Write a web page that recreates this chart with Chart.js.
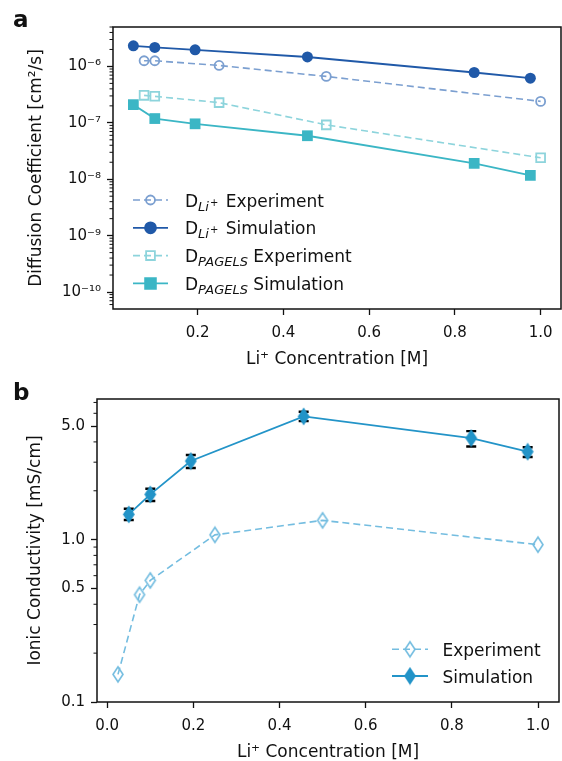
<!DOCTYPE html>
<html>
<head>
<meta charset="utf-8">
<script src="https://cdn.jsdelivr.net/npm/chart.js@4.4.1/dist/chart.umd.min.js"></script>
<style>
  html, body { margin: 0; padding: 0; background: #fff; }
  #page { position: relative; width: 562px; height: 761px; overflow: hidden; font-family: "DejaVu Sans", sans-serif; }
  .holder { position: absolute; left: 0; width: 640px; }
  .tag { position: absolute; font-weight: bold; font-size: 23px; line-height: 1; color: #111; }
</style>
</head>
<body>
<div id="page">
  <div class="holder" style="top:0; height:370px"><canvas id="chartA" width="562" height="370"></canvas></div>
  <div class="holder" style="top:370px; height:391px"><canvas id="chartB" width="562" height="391"></canvas></div>
  <div class="tag" style="left:13px; top:8px">a</div>
  <div class="tag" style="left:13px; top:381px">b</div>
</div>
<script>
// panel a - diffusion coefficients
const concSimA = [0.05, 0.10, 0.194, 0.456, 0.845, 0.976];
const concExpA = [0.075, 0.10, 0.25, 0.50, 1.00];
const dLiExp = [1.26e-6, 1.26e-6, 1.04e-6, 6.65e-7, 2.4e-7];
const dLiSim = [2.32e-6, 2.17e-6, 1.97e-6, 1.47e-6, 7.8e-7, 6.2e-7];
const dPagelsExp = [3.07e-7, 2.95e-7, 2.28e-7, 9.2e-8, 2.4e-8];
const dPagelsSim = [2.1e-7, 1.19e-7, 9.6e-8, 5.9e-8, 1.91e-8, 1.17e-8];
const xTicksA = [0.2, 0.4, 0.6, 0.8, 1.0];
const yTicksA = [1e-10, 1e-9, 1e-8, 1e-7, 1e-6];
const yTickLabelsA = ['10⁻¹⁰', '10⁻⁹', '10⁻⁸', '10⁻⁷', '10⁻⁶'];

// panel b - ionic conductivity
const concExpB = [0.025, 0.075, 0.10, 0.25, 0.50, 1.00];
const concSimB = [0.05, 0.10, 0.194, 0.456, 0.845, 0.976];
const condExp = [0.148, 0.458, 0.561, 1.07, 1.315, 0.931];
const condSim = [1.43, 1.90, 3.05, 5.74, 4.22, 3.48];
const condSimLow = [1.32, 1.73, 2.76, 5.37, 3.75, 3.23];
const condSimHigh = [1.55, 2.06, 3.32, 6.13, 4.66, 3.71];
const xTicksB = [0.0, 0.2, 0.4, 0.6, 0.8, 1.0];
const yTicksB = [0.1, 0.5, 1.0, 5.0];
const yTickLabelsB = ['0.1', '0.5', '1.0', '5.0'];
const yMinorB = [0.2, 0.3, 0.4, 0.6, 0.7, 0.8, 0.9, 2, 3, 4, 6, 7];

const fontFamily = '"DejaVu Sans", sans-serif';
const ink = '#111';

function pts(xs, ys) {
  return xs.map((x, i) => ({ x: x, y: ys[i] }));
}

// minor ticks for the log axis of panel a
const yMinorA = [];
for (let e = -11; e <= -6; e++) {
  for (let k = 2; k <= 9; k++) {
    const v = k * Math.pow(10, e);
    if (v >= 5e-11 && v <= 5e-6) yMinorA.push(v);
  }
}

// thin diamond marker (matplotlib 'd')
function thinDiamond(color, filled) {
  const w = 10, h = 15, lw = 1.6;
  const c = document.createElement('canvas');
  c.width = w + 4; c.height = h + 4;
  const g = c.getContext('2d');
  const cx = c.width / 2, cy = c.height / 2;
  g.beginPath();
  g.moveTo(cx, cy - h / 2);
  g.lineTo(cx + w / 2, cy);
  g.lineTo(cx, cy + h / 2);
  g.lineTo(cx - w / 2, cy);
  g.closePath();
  if (filled) { g.fillStyle = color; g.fill(); }
  g.strokeStyle = color; g.lineWidth = lw; g.stroke();
  return c;
}

function drawMarker(ctx, ds, x, y) {
  const st = ds.pointStyle;
  if (typeof st === 'object') {
    ctx.drawImage(st, x - st.width / 2, y - st.height / 2);
    return;
  }
  const r = ds.pointRadius;
  ctx.beginPath();
  if (st === 'rect') {
    const s = Math.SQRT1_2 * r;
    ctx.rect(x - s, y - s, 2 * s, 2 * s);
  } else {
    ctx.arc(x, y, r, 0, Math.PI * 2);
  }
  ctx.fillStyle = ds.pointBackgroundColor;
  ctx.fill();
  ctx.strokeStyle = ds.pointBorderColor;
  ctx.lineWidth = ds.pointBorderWidth;
  ctx.stroke();
}

const framePlugin = {
  id: 'frame',
  afterDraw(chart) {
    const a = chart.chartArea, ctx = chart.ctx;
    ctx.save();
    ctx.strokeStyle = ink;
    ctx.lineWidth = 1.5;
    ctx.strokeRect(a.left, a.top, a.right - a.left, a.bottom - a.top);
    // minor ticks on the y axis
    const opts = chart.options.plugins.minorTicks;
    const ys = chart.scales.y;
    ctx.lineWidth = 1;
    opts.values.forEach(v => {
      const py = ys.getPixelForValue(v);
      if (py < a.top - 0.5 || py > a.bottom + 0.5) return;
      ctx.beginPath();
      ctx.moveTo(a.left - 3.5, py);
      ctx.lineTo(a.left, py);
      ctx.stroke();
    });
    ctx.restore();
  }
};

const errorBarPlugin = {
  id: 'errorBars',
  beforeDatasetsDraw(chart, args, opts) {
    if (!opts || !opts.low) return;
    const ctx = chart.ctx;
    const xs = chart.scales.x, ys = chart.scales.y;
    ctx.save();
    ctx.strokeStyle = '#000';
    opts.xs.forEach((xv, i) => {
      const px = xs.getPixelForValue(xv);
      const lo = ys.getPixelForValue(opts.low[i]);
      const hi = ys.getPixelForValue(opts.high[i]);
      ctx.lineWidth = 1.6;
      ctx.beginPath(); ctx.moveTo(px, lo); ctx.lineTo(px, hi); ctx.stroke();
      ctx.lineWidth = 2.4;
      ctx.beginPath();
      ctx.moveTo(px - 5, lo); ctx.lineTo(px + 5, lo);
      ctx.moveTo(px - 5, hi); ctx.lineTo(px + 5, hi);
      ctx.stroke();
    });
    ctx.restore();
  }
};

const legendPlugin = {
  id: 'richLegend',
  afterDraw(chart, args, opts) {
    if (!opts || !opts.items) return;
    const ctx = chart.ctx;
    opts.items.forEach((item, k) => {
      const ds = chart.data.datasets[item.dataset];
      const y = opts.y + k * opts.spacing;
      ctx.save();
      ctx.strokeStyle = ds.borderColor;
      ctx.lineWidth = ds.borderWidth;
      ctx.setLineDash(ds.borderDash || []);
      ctx.beginPath();
      ctx.moveTo(opts.x, y);
      ctx.lineTo(opts.x + opts.handle, y);
      ctx.stroke();
      ctx.setLineDash([]);
      drawMarker(ctx, ds, opts.x + opts.handle / 2, y);
      let tx = opts.textX;
      ctx.fillStyle = ink;
      ctx.textBaseline = 'alphabetic';
      item.parts.forEach(p => {
        const size = p.size || 17;
        ctx.font = (p.italic ? 'italic ' : '') + size + 'px ' + fontFamily;
        tx += p.dx || 0;
        ctx.fillText(p.text, tx, y + 6.5 + (p.dy || 0));
        tx += ctx.measureText(p.text).width;
      });
      ctx.restore();
    });
  }
};

function axisX(min, max, tickList, height) {
  return {
    type: 'linear', min: min, max: max,
    afterBuildTicks: s => { s.ticks = tickList.map(v => ({ value: v })); },
    afterFit: s => { s.height = height; s.paddingLeft = 0; s.paddingRight = 0; },
    ticks: {
      font: { size: 15, family: fontFamily }, color: ink, padding: 9,
      maxRotation: 0, autoSkip: false,
      callback: v => Number(v).toFixed(1)
    },
    grid: { drawOnChartArea: false, drawTicks: true, tickLength: 6, tickColor: ink, tickWidth: 1.3 },
    border: { display: false },
    title: {
      display: true, text: 'Li⁺ Concentration [M]', color: ink, padding: 0,
      font: { size: 17, family: fontFamily, lineHeight: 1 }
    }
  };
}

function axisY(min, max, tickList, labels, width, titleText) {
  return {
    type: 'logarithmic', min: min, max: max,
    afterBuildTicks: s => { s.ticks = tickList.map(v => ({ value: v })); },
    afterFit: s => { s.width = width; s.paddingTop = 0; s.paddingBottom = 0; },
    ticks: {
      font: { size: 15, family: fontFamily }, color: ink, padding: 6,
      autoSkip: false,
      callback: (v, i) => labels[i]
    },
    grid: { drawOnChartArea: false, drawTicks: true, tickLength: 6, tickColor: ink, tickWidth: 1.3 },
    border: { display: false },
    title: {
      display: true, text: titleText, color: ink, padding: 0,
      font: { size: 17, family: fontFamily, lineHeight: 1 }
    }
  };
}

const liColor = '#2059a8', liExpColor = '#7b9fd0';
const pgColor = '#3bb6c5', pgExpColor = '#8dd4dc';

const configA = {
  type: 'scatter',
  data: {
    datasets: [
      {
        label: 'D Li+ Experiment', data: pts(concExpA, dLiExp), showLine: true,
        borderColor: liExpColor, borderWidth: 1.6, borderDash: [7, 4],
        pointStyle: 'circle', pointRadius: 4.5, pointBorderWidth: 1.8,
        pointBorderColor: liExpColor, pointBackgroundColor: 'rgba(255,255,255,0)'
      },
      {
        label: 'D Li+ Simulation', data: pts(concSimA, dLiSim), showLine: true,
        borderColor: liColor, borderWidth: 1.8,
        pointStyle: 'circle', pointRadius: 5.5, pointBorderWidth: 0,
        pointBorderColor: liColor, pointBackgroundColor: liColor
      },
      {
        label: 'D PAGELS Experiment', data: pts(concExpA, dPagelsExp), showLine: true,
        borderColor: pgExpColor, borderWidth: 1.6, borderDash: [7, 4],
        pointStyle: 'rect', pointRadius: 6.2, pointBorderWidth: 1.8,
        pointBorderColor: pgExpColor, pointBackgroundColor: 'rgba(255,255,255,0)'
      },
      {
        label: 'D PAGELS Simulation', data: pts(concSimA, dPagelsSim), showLine: true,
        borderColor: pgColor, borderWidth: 1.8,
        pointStyle: 'rect', pointRadius: 7.6, pointBorderWidth: 0,
        pointBorderColor: pgColor, pointBackgroundColor: pgColor
      }
    ]
  },
  options: {
    responsive: false, animation: false, devicePixelRatio: 1,
    layout: { padding: { top: 27, right: 1, left: 28, bottom: 1.5 } },
    scales: {
      x: axisX(0.0025, 1.0475, xTicksA, 59.5),
      y: axisY(5e-11, 5e-6, yTicksA, yTickLabelsA, 85, 'Diffusion Coefficient [cm²/s]')
    },
    plugins: {
      legend: { display: false },
      tooltip: { enabled: false },
      minorTicks: { values: yMinorA },
      richLegend: {
        x: 133, y: 200, spacing: 27.8, handle: 35, textX: 185,
        items: [
          { dataset: 0, parts: [{ text: 'D' }, { text: 'Li', italic: true, size: 13, dy: 4 }, { text: '+', size: 10, dy: -1, dx: 1 }, { text: ' Experiment', dx: 2 }] },
          { dataset: 1, parts: [{ text: 'D' }, { text: 'Li', italic: true, size: 13, dy: 4 }, { text: '+', size: 10, dy: -1, dx: 1 }, { text: ' Simulation', dx: 2 }] },
          { dataset: 2, parts: [{ text: 'D' }, { text: 'PAGELS', italic: true, size: 13, dy: 4 }, { text: ' Experiment' }] },
          { dataset: 3, parts: [{ text: 'D' }, { text: 'PAGELS', italic: true, size: 13, dy: 4 }, { text: ' Simulation' }] }
        ]
      }
    }
  },
  plugins: [framePlugin, legendPlugin]
};

const condColor = '#2394c8', condExpColor = '#74bde0';

const configB = {
  type: 'scatter',
  data: {
    datasets: [
      {
        label: 'Experiment', data: pts(concExpB, condExp), showLine: true,
        borderColor: condExpColor, borderWidth: 1.6, borderDash: [7, 4],
        pointStyle: thinDiamond(condExpColor, false), pointRadius: 7,
        pointBorderWidth: 0, pointBackgroundColor: 'rgba(0,0,0,0)'
      },
      {
        label: 'Simulation', data: pts(concSimB, condSim), showLine: true,
        borderColor: condColor, borderWidth: 1.8,
        pointStyle: thinDiamond(condColor, true), pointRadius: 7,
        pointBorderWidth: 0, pointBackgroundColor: condColor
      }
    ]
  },
  options: {
    responsive: false, animation: false, devicePixelRatio: 1,
    layout: { padding: { top: 29, right: 3, left: 27, bottom: 0 } },
    scales: {
      x: axisX(-0.02375, 1.04875, xTicksB, 59),
      y: axisY(0.1, 7.35, yTicksB, yTickLabelsB, 70, 'Ionic Conductivity [mS/cm]')
    },
    plugins: {
      legend: { display: false },
      tooltip: { enabled: false },
      minorTicks: { values: yMinorB },
      errorBars: { xs: concSimB, low: condSimLow, high: condSimHigh },
      richLegend: {
        x: 392, y: 279.3, spacing: 26.7, handle: 36, textX: 442.5,
        items: [
          { dataset: 0, parts: [{ text: 'Experiment' }] },
          { dataset: 1, parts: [{ text: 'Simulation' }] }
        ]
      }
    }
  },
  plugins: [framePlugin, errorBarPlugin, legendPlugin]
};

// chart.js keeps a few extra px on the right of the plot; build once, measure,
// then rebuild on a wider canvas (clipped by #page) so the frame lands where the reference has it
function makeChart(id, config, targetRight) {
  const canvas = document.getElementById(id);
  let chart = new Chart(canvas, config);
  const gap = chart.width - chart.chartArea.right;
  const w = Math.round(targetRight + gap);
  if (w !== chart.width) {
    const h = chart.height;
    chart.destroy();
    canvas.width = w;
    canvas.height = h;
    canvas.style.width = w + 'px';
    canvas.style.height = h + 'px';
    chart = new Chart(canvas, config);
  }
  return chart;
}

makeChart('chartA', configA, 561);
makeChart('chartB', configB, 559);
</script>
</body>
</html>
